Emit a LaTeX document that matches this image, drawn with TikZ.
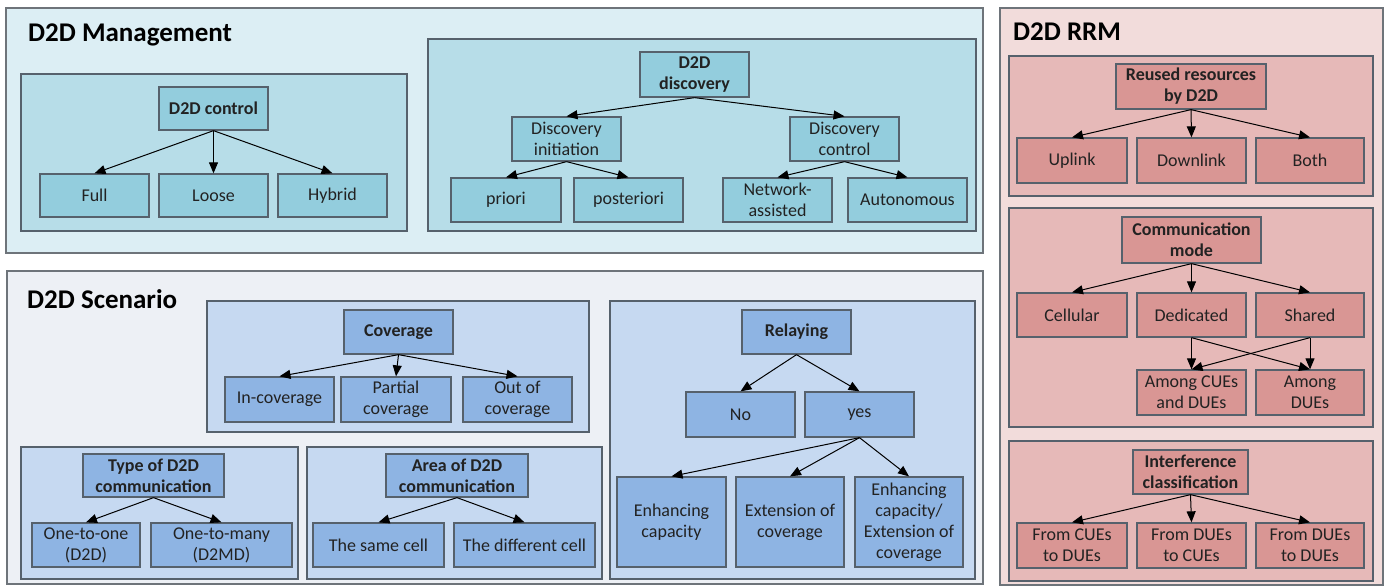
\documentclass[tikz,border=0pt]{standalone}
\usepackage{fontspec}
\setmainfont{Carlito}
\usetikzlibrary{arrows.meta}

% colour families of the three areas
\definecolor{mgOuter}{HTML}{DCEEF4}
\definecolor{mgPanel}{HTML}{B7DDE8}
\definecolor{mgNode}{HTML}{93CDDD}
\definecolor{rrOuter}{HTML}{F2DCDB}
\definecolor{rrPanel}{HTML}{E6B9B8}
\definecolor{rrNode}{HTML}{D99694}
\definecolor{scOuter}{HTML}{EDF0F5}
\definecolor{scPanel}{HTML}{C6D9F1}
\definecolor{scNode}{HTML}{8EB4E3}
\definecolor{edge}{HTML}{56616C}
\definecolor{outerEdge}{HTML}{6E747A}
\definecolor{txt}{HTML}{222222}

% \blk{style}{name}{cx}{cy}{width}{height}{text}
\newcommand\blk[7]{\node[#1, minimum width=#5pt, minimum height=#6pt] (#2) at (#3,#4) {#7};}

\begin{document}
\begin{tikzpicture}[x=1pt,y=-1pt,
  frame/.style={rectangle, draw=edge, line width=1.3pt, inner sep=0pt},
  outer/.style={frame, draw=outerEdge},
  item/.style={frame, align=center, text=txt, font=\fontsize{18}{21}\selectfont},
  head/.style={item, font=\bfseries\fontsize{18}{21}\selectfont},
  title/.style={anchor=base west, inner sep=0pt, text=black, font=\bfseries\fontsize{27}{32}\selectfont},
  link/.style={-{Triangle[length=11pt,width=9pt]}, line width=1pt, black},
  mo/.style={outer, fill=mgOuter}, mp/.style={frame, fill=mgPanel},
  mn/.style={item, fill=mgNode}, mh/.style={head, fill=mgNode},
  ro/.style={outer, fill=rrOuter}, rp/.style={frame, fill=rrPanel},
  rn/.style={item, fill=rrNode}, rh/.style={head, fill=rrNode},
  so/.style={outer, fill=scOuter}, sp/.style={frame, fill=scPanel},
  sn/.style={item, fill=scNode}, sh/.style={head, fill=scNode}]

\useasboundingbox[fill=white] (0,0) rectangle (1388,588);

% ---------- outer areas ----------
\blk{mo}{mgmt}{494.5}{130.5}{977}{245}{}
\blk{ro}{rrm}{1191.5}{296.5}{383}{577}{}
\blk{so}{scen}{495}{427.5}{976}{313}{}

\node[title] (tmgmt) at (28,42) {D2D Management};
\node[title] (trrm) at (1013,41) {D2D RRM};
\node[title] (tscen) at (27,308) {D2D Scenario};

% ---------- panels ----------
\blk{mp}{ctrlP}{214}{152.5}{386}{157}{}
\blk{mp}{discP}{702}{135}{548}{192}{}
\blk{rp}{resP}{1191}{126}{364}{140}{}
\blk{rp}{modeP}{1191}{317.5}{364}{219}{}
\blk{rp}{intP}{1191}{511}{364}{140}{}
\blk{sp}{covP}{398}{366.5}{382}{131}{}
\blk{sp}{typeP}{159.5}{513}{277}{132}{}
\blk{sp}{areaP}{454.5}{513}{295}{132}{}
\blk{sp}{relP}{792.5}{440}{365}{278}{}

% ---------- D2D control ----------
\blk{mh}{ctrl}{213.5}{108.5}{109}{43}{D2D control}
\blk{mn}{full}{94.5}{195.5}{109}{43}{Full}
\blk{mn}{loose}{213.5}{195.5}{109}{43}{Loose}
\blk{mn}{hybrid}{332.5}{195.5}{109}{43}{Hybrid}
\foreach \c in {full,loose,hybrid} \draw[link] (ctrl.south) -- (\c.north);

% ---------- D2D discovery ----------
\blk{mh}{disc}{694.5}{74.5}{109}{45}{D2D\\discovery}
\blk{mn}{dinit}{566.5}{139}{109}{44}{Discovery\\initiation}
\blk{mn}{dctrl}{844.5}{139}{109}{44}{Discovery\\control}
\blk{mn}{priori}{506}{200}{110}{44}{priori}
\blk{mn}{post}{628.5}{200}{109}{44}{posteriori}
\blk{mn}{netas}{777.5}{200}{109}{44}{Network-\\assisted}
\blk{mn}{auton}{907.5}{200}{119}{44}{Autonomous}
\draw[link] (disc.south) -- (dinit.north);
\draw[link] (disc.south) -- (dctrl.north);
\draw[link] (dinit.south) -- (priori.north);
\draw[link] (dinit.south) -- (post.north);
\draw[link] (dctrl.south) -- (netas.north);
\draw[link] (dctrl.south) -- (auton.north);

% ---------- reused resources ----------
\blk{rh}{reuse}{1191}{86.5}{150}{45}{Reused resources\\by D2D}
\blk{rn}{uplink}{1072}{160.5}{110}{45}{Uplink}
\blk{rn}{downlink}{1191.5}{160.5}{109}{45}{Downlink}
\blk{rn}{bothR}{1310}{160.5}{108}{45}{Both}
\foreach \c in {uplink,downlink,bothR} \draw[link] (reuse.south) -- (\c.north);

% ---------- communication mode ----------
\blk{rh}{mode}{1191.5}{240}{139}{46}{Communication\\mode}
\blk{rn}{cellular}{1072}{315}{110}{44}{Cellular}
\blk{rn}{dedic}{1191.5}{315}{109}{44}{Dedicated}
\blk{rn}{shared}{1310}{315}{108}{44}{Shared}
\blk{rn}{amCD}{1191.5}{392.5}{109}{45}{Among CUEs\\and DUEs}
\blk{rn}{amD}{1310}{392.5}{108}{45}{Among\\DUEs}
\foreach \c in {cellular,dedic,shared} \draw[link] (mode.south) -- (\c.north);
\draw[link] (dedic.south) -- (amCD.north);
\draw[link] (dedic.south) -- (amD.north);
\draw[link] (shared.south) -- (amD.north);
\draw[link] (shared.south) -- (amCD.north);

% ---------- interference classification ----------
\blk{rh}{intf}{1190.5}{472}{115}{44}{Interference\\classification}
\blk{rn}{fcd}{1072}{545.5}{110}{45}{From CUEs\\to DUEs}
\blk{rn}{fdc}{1191.5}{545.5}{109}{45}{From DUEs\\to CUEs}
\blk{rn}{fdd}{1310}{545.5}{108}{45}{From DUEs\\to DUEs}
\foreach \c in {fcd,fdc,fdd} \draw[link] (intf.south) -- (\c.north);

% ---------- coverage ----------
\blk{sh}{cov}{398.5}{332}{109}{44}{Coverage}
\blk{sn}{incov}{279.5}{399.5}{109}{45}{In-coverage}
\blk{sn}{partcov}{396}{399.5}{110}{45}{Partial\\coverage}
\blk{sn}{outcov}{517.5}{399.5}{109}{45}{Out of\\coverage}
\foreach \c in {incov,partcov,outcov} \draw[link] (cov.south) -- (\c.north);

% ---------- type of D2D communication ----------
\blk{sh}{typ}{153.5}{475.5}{141}{43}{Type of D2D\\communication}
\blk{sn}{oneone}{86}{545}{108}{44}{One-to-one\\(D2D)}
\blk{sn}{onemany}{221.5}{545}{141}{44}{One-to-many\\(D2MD)}
\draw[link] (typ.south) -- (oneone.north);
\draw[link] (typ.south) -- (onemany.north);

% ---------- area of D2D communication ----------
\blk{sh}{area}{457}{475.5}{142}{43}{Area of D2D\\communication}
\blk{sn}{same}{378.5}{545}{131}{44}{The same cell}
\blk{sn}{diff}{524.5}{545}{141}{44}{The different cell}
\draw[link] (area.south) -- (same.north);
\draw[link] (area.south) -- (diff.north);

% ---------- relaying ----------
\blk{sh}{rel}{796.5}{332}{109}{44}{Relaying}
\blk{sn}{no}{740.5}{414.5}{109}{45}{No}
\blk{sn}{yes}{859.5}{414.5}{109}{45}{yes}
\blk{sn}{enh}{671.5}{522}{109}{90}{Enhancing\\capacity}
\blk{sn}{ext}{790}{522}{108}{90}{Extension of\\coverage}
\blk{sn}{enhext}{909}{522}{108}{90}{Enhancing\\capacity/\\Extension of\\coverage}
\draw[link] (rel.south) -- (no.north);
\draw[link] (rel.south) -- (yes.north);
\foreach \c in {enh,ext,enhext} \draw[link] (yes.south) -- (\c.north);

\end{tikzpicture}
\end{document}
